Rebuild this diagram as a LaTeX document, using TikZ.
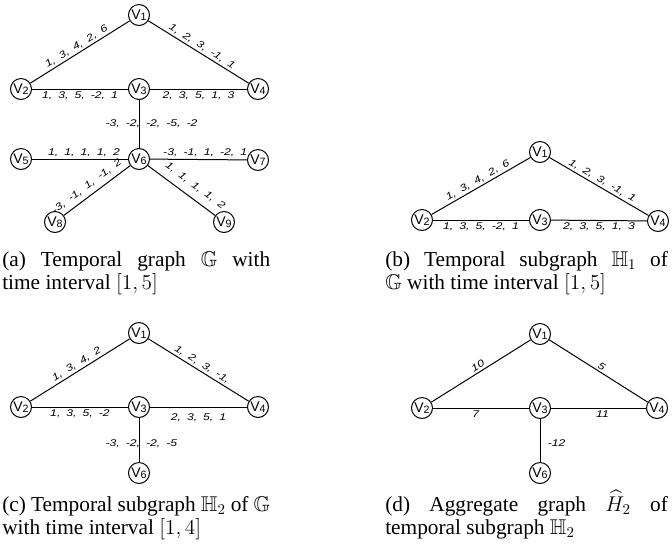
\RequirePackage{fix-cm}
\documentclass[tikz,border=0pt]{standalone}
\usepackage{amssymb}
\usepackage{fontspec}
\setmainfont{Liberation Serif}
\newfontfamily\vfont{Liberation Sans}
\newfontfamily\lblfont[FakeStretch=1.25, WordSpace=1.8]{Liberation Sans}
\newcommand\vlab[1]{V\raisebox{-0.1em}{\fontsize{8}{8}\selectfont #1}}
\begin{document}
\begin{tikzpicture}[x=0.75pt,y=-0.75pt,
  vert/.style={draw, circle, line width=0.75pt, minimum size=15.75pt, inner sep=0pt, font=\vfont\fontsize{10.5}{11}\selectfont},
  edge/.style={line width=0.75pt},
  lbl/.style={font=\lblfont\itshape\fontsize{7.3}{8}\selectfont, inner sep=1.5pt},
  captext/.style={anchor=base west, inner sep=0pt, font=\fontsize{16}{18}\selectfont}]
\useasboundingbox (0,0) rectangle (672,544);

% ---------- (a)
\node[vert] (a1) at (139,15) {\vlab{1}};
\node[vert] (a2) at (21,89) {\vlab{2}};
\node[vert] (a3) at (139,89) {\vlab{3}};
\node[vert] (a4) at (258,89) {\vlab{4}};
\node[vert] (a5) at (21,159) {\vlab{5}};
\node[vert] (a6) at (139,159) {\vlab{6}};
\node[vert] (a7) at (258,160) {\vlab{7}};
\node[vert] (a8) at (55,222) {\vlab{8}};
\node[vert] (a9) at (224,222) {\vlab{9}};
\draw[edge] (a2) -- node[lbl, sloped, above] (la21) {1, 3, 4, 2, 6} (a1);
\draw[edge] (a1) -- node[lbl, sloped, above] (la14) {1, 2, 3, -1, 1} (a4);
\draw[edge] (a2) -- node[lbl, below] (la23) {1, 3, 5, -2, 1} (a3);
\draw[edge] (a3) -- node[lbl, below] (la34) {2, 3, 5, 1, 3} (a4);
\draw[edge] (a3) -- node[lbl, anchor=west, xshift=-27pt] (la36) {-3, -2, -2, -5, -2} (a6);
\draw[edge] (a5) -- node[lbl, above, xshift=3pt] (la56) {1, 1, 1, 1, 2} (a6);
\draw[edge] (a6) -- node[lbl, above, xshift=5pt] (la67) {-3, -1, 1, -2, 1} (a7);
\draw[edge] (a8) -- node[lbl, sloped, above=2pt, pos=0.43] (la86) {-3, -1, 1, -1, 2} (a6);
\draw[edge] (a6) -- node[lbl, sloped, above=4pt, pos=0.6] (la69) {1, 1, 1, 1, 2} (a9);
\node[captext] (capa1) at (2,266) {\makebox[201pt][s]{(a) Temporal graph $\mathbb{G}$ with}};
\node[captext] (capa2) at (2,289) {time interval $[1,5]$};

% ---------- (b)
\node[vert] (b1) at (540,152) {\vlab{1}};
\node[vert] (b2) at (422,220) {\vlab{2}};
\node[vert] (b3) at (540,220) {\vlab{3}};
\node[vert] (b4) at (658,221) {\vlab{4}};
\draw[edge] (b2) -- node[lbl, sloped, above] (lb21) {1, 3, 4, 2, 6} (b1);
\draw[edge] (b1) -- node[lbl, sloped, above] (lb14) {1, 2, 3, -1, 1} (b4);
\draw[edge] (b2) -- node[lbl, below] (lb23) {1, 3, 5, -2, 1} (b3);
\draw[edge] (b3) -- node[lbl, below] (lb34) {2, 3, 5, 1, 3} (b4);
\node[captext] (capb1) at (385,266) {\makebox[212pt][s]{(b) Temporal subgraph $\mathbb{H}_1$ of}};
\node[captext] (capb2) at (385,289) {$\mathbb{G}$ with time interval $[1,5]$};

% ---------- (c)
\node[vert] (c1) at (139,333) {\vlab{1}};
\node[vert] (c2) at (21,407) {\vlab{2}};
\node[vert] (c3) at (139,407) {\vlab{3}};
\node[vert] (c4) at (258,407) {\vlab{4}};
\node[vert] (c6) at (139,473) {\vlab{6}};
\draw[edge] (c2) -- node[lbl, sloped, above] (lc21) {1, 3, 4, 2} (c1);
\draw[edge] (c1) -- node[lbl, sloped, above] (lc14) {1, 2, 3, -1,} (c4);
\draw[edge] (c2) -- node[lbl, below] (lc23) {1, 3, 5, -2} (c3);
\draw[edge] (c3) -- node[lbl, below=3pt] (lc34) {2, 3, 5, 1} (c4);
\draw[edge] (c3) -- node[lbl, anchor=west, xshift=-27pt, yshift=-3pt] (lc36) {-3, -2, -2, -5} (c6);
\node[captext] (capc1) at (2,511) {\makebox[201pt][s]{(c) Temporal subgraph $\mathbb{H}_2$ of $\mathbb{G}$}};
\node[captext] (capc2) at (2,534) {with time interval $[1,4]$};

% ---------- (d)
\node[vert] (d1) at (540,334) {\vlab{1}};
\node[vert] (d2) at (422,408) {\vlab{2}};
\node[vert] (d3) at (540,408) {\vlab{3}};
\node[vert] (d4) at (657,408) {\vlab{4}};
\node[vert] (d6) at (540,473) {\vlab{6}};
\draw[edge] (d2) -- node[lbl, sloped, above] (ld21) {10} (d1);
\draw[edge] (d1) -- node[lbl, sloped, above] (ld14) {5} (d4);
\draw[edge] (d2) -- node[lbl, below, xshift=-4pt] (ld23) {7} (d3);
\draw[edge] (d3) -- node[lbl, below, xshift=3pt] (ld34) {11} (d4);
\draw[edge] (d3) -- node[lbl, right=4pt, yshift=-2pt] (ld36) {-12} (d6);
\node[captext] (capd1) at (385,511) {\makebox[212pt][s]{(d) Aggregate graph $\widehat{H}_2$ of}};
\node[captext] (capd2) at (385,534) {temporal subgraph $\mathbb{H}_2$};
\end{tikzpicture}
\end{document}
